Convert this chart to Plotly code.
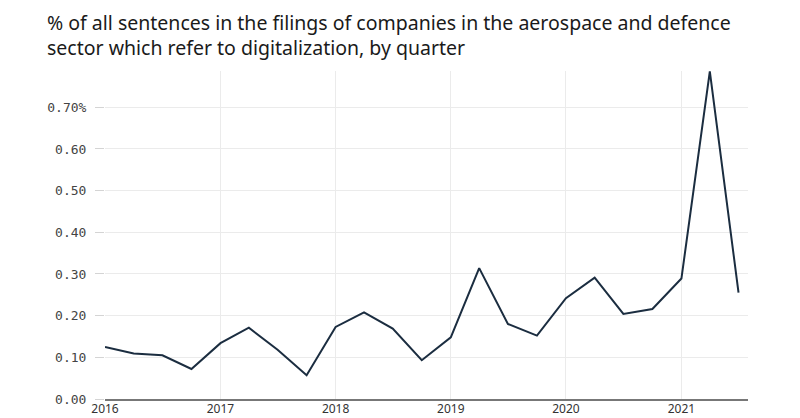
import plotly.graph_objects as go

quarters = ['2016-01-01', '2016-04-01', '2016-07-01', '2016-10-01',
            '2017-01-01', '2017-04-01', '2017-07-01', '2017-10-01',
            '2018-01-01', '2018-04-01', '2018-07-01', '2018-10-01',
            '2019-01-01', '2019-04-01', '2019-07-01', '2019-10-01',
            '2020-01-01', '2020-04-01', '2020-07-01', '2020-10-01',
            '2021-01-01', '2021-04-01', '2021-07-01']
share = [0.125, 0.109, 0.105, 0.072,
         0.134, 0.171, 0.118, 0.057,
         0.173, 0.208, 0.169, 0.093,
         0.148, 0.314, 0.180, 0.152,
         0.242, 0.291, 0.204, 0.216,
         0.289, 0.786, 0.255]
y_ticks = [0, 0.1, 0.2, 0.3, 0.4, 0.5, 0.6, 0.7]
y_labels = ['0.00', '0.10', '0.20', '0.30', '0.40', '0.50', '0.60', '0.70%']
year_ticks = ['2016-01-01', '2017-01-01', '2018-01-01', '2019-01-01',
              '2020-01-01', '2021-01-01']
year_labels = ['2016', '2017', '2018', '2019', '2020', '2021']

title = ('% of all sentences in the filings of companies in the aerospace and defence<br>'
         'sector which refer to digitalization, by quarter')

fig = go.Figure()
fig.add_trace(go.Scatter(x=quarters, y=share, mode='lines',
                         line=dict(color='#1b2d40', width=2),
                         hoverinfo='x+y'))

# page body adds an 8px offset, so the figure is 792x410 and margins account for it
fig.update_layout(
    width=792, height=410,
    margin=dict(l=97, r=52, t=63, b=19, autoexpand=False),
    paper_bgcolor='white', plot_bgcolor='white',
    showlegend=False,
)

# title as an annotation so both lines sit where the reference has them
fig.add_annotation(text=title, xref='paper', yref='paper', x=-59 / 643, y=1 + 63 / 328,
                   xanchor='left', yanchor='top', align='left', showarrow=False,
                   borderpad=0,
                   font=dict(family='Noto Sans, sans-serif', size=19.5, color='#1a1a1a'))

fig.update_xaxes(range=['2016-01-01', '2021-07-31'],
                 tickvals=year_ticks, ticktext=year_labels,
                 showgrid=True, gridcolor='#ebebeb', gridwidth=1,
                 showline=True, linecolor='#777', linewidth=1.5,
                 ticks='', automargin=False, ticklabelstandoff=-2,
                 tickfont=dict(family='Noto Sans, sans-serif', size=12, color='#333'),
                 zeroline=False)
fig.update_yaxes(range=[0, 0.787], tickvals=y_ticks, ticktext=y_labels,
                 showgrid=True, gridcolor='#ebebeb', gridwidth=1,
                 ticks='outside', ticklen=9, tickcolor='#d4d4d4', automargin=False,
                 ticklabelstandoff=6,
                 tickfont=dict(family='DejaVu Sans Mono, monospace', size=13, color='#444'),
                 zeroline=False, showline=False)

fig.write_html('out.html')
